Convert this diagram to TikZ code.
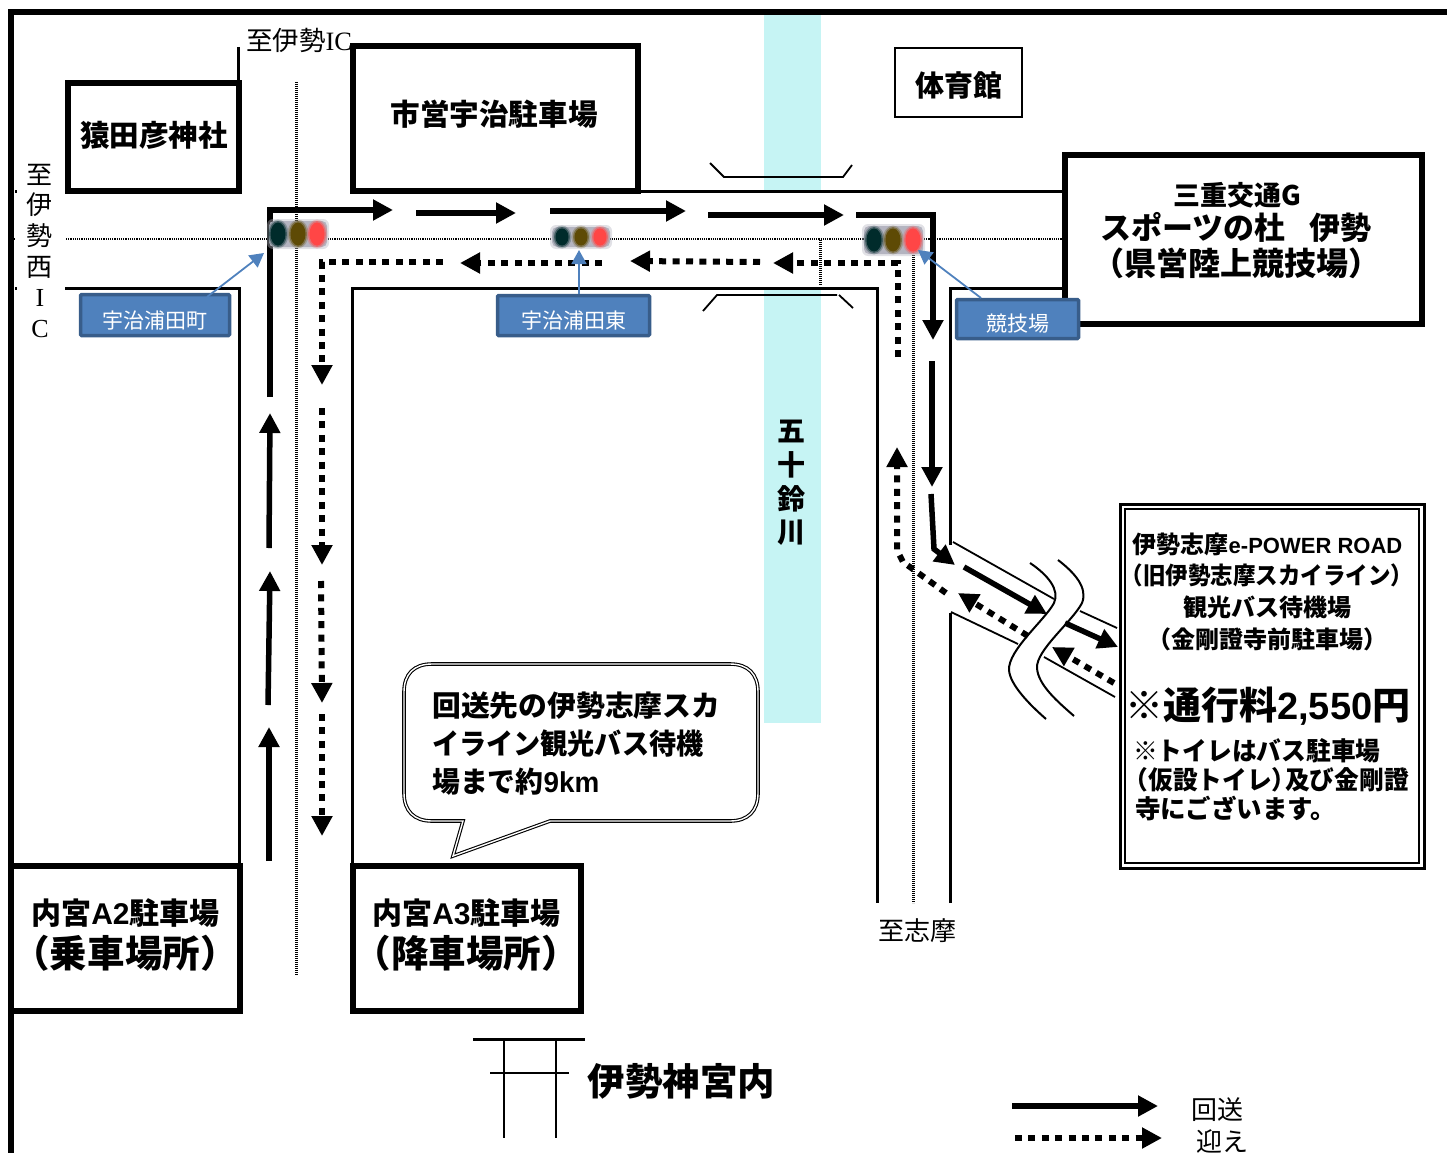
\documentclass[tikz,border=0pt]{standalone}
\usepackage{fontspec}
\usepackage{graphicx}
\usetikzlibrary{arrows.meta}
\setmainfont{Noto Sans CJK JP}
\newfontfamily\latb{Liberation Sans}
\newfontfamily\lats{Liberation Serif}
\newcommand\fs[1]{\fontsize{#1pt}{#1pt}\selectfont}
\newcommand\sx[2]{\scalebox{#1}[1]{#2}}
\definecolor{bluefill}{HTML}{4F81BD}
\definecolor{blueedge}{HTML}{385D8A}
\definecolor{rivercol}{HTML}{C6F4F4}
\definecolor{sigbg}{HTML}{B4B4C0}
\definecolor{lampG}{HTML}{002B2B}
\definecolor{lampY}{HTML}{5E4A05}
\definecolor{lampR}{HTML}{FF4646}
\tikzset{
  boxthick/.style={draw=black,line width=5.5pt,fill=white},
  roadline/.style={draw=black,line width=3pt},
  thinline/.style={draw=black,line width=1.8pt},
  centerline/.style={draw=black,line width=3pt,dash pattern=on 1.1pt off .9pt},
  centerh/.style={draw=black,line width=2.4pt,dash pattern=on 1.2pt off 1pt},
  solidroute/.style={draw=black,line width=5.5pt,-{Triangle[length=20pt,width=20pt]}},
  dotroute/.style={draw=black,line width=6pt,dash pattern=on 7pt off 6.4pt,-{Triangle[length=20pt,width=20pt]}},
  bluelabel/.style={fill=bluefill,draw=blueedge,line width=3.5pt,rounded corners=1pt,text=white,inner sep=0pt,font=\fs{21},text height=26pt,text depth=0pt},
  bluearrow/.style={draw=bluefill,line width=1.8pt,-{Triangle[length=14pt,width=15pt]}},
  txt/.style={inner sep=0pt,font=\bfseries\fs{29}},
  txtl/.style={inner sep=0pt,anchor=west,font=\bfseries\fs{29}},
  plain/.style={inner sep=0pt,font=\fs{26}},
}
\newcommand\siglamp[5]{% x y rx ry colour
  \fill[#5,opacity=.25] (#1,#2) ellipse [x radius=#3+1.5,y radius=#4+1.5];
  \fill[#5,opacity=.5] (#1,#2) ellipse [x radius=#3,y radius=#4];
  \fill[#5] (#1,#2) ellipse [x radius=#3-1.5,y radius=#4-1.5];}
\newcommand\sigbox[4]{% x1 y1 x2 y2
  \fill[sigbg,opacity=.4,rounded corners=6pt] (#1-1,#2-1) rectangle (#3+1,#4+1);
  \fill[sigbg,rounded corners=5pt] (#1+1,#2+1) rectangle (#3-1,#4-1);}
\begin{document}
\begin{tikzpicture}[x=1pt,y=-1pt]
\useasboundingbox (0,0) rectangle (1447,1153);
% river
\fill[rivercol] (764,15) rectangle (821,190);
\fill[rivercol] (764,288) rectangle (821,723);
% frame
\draw[line width=6pt] (1447,12) -- (11,12) -- (11,1153);
% roads
\draw[roadline] (640,191) -- (1064,191);
\draw[roadline] (15,191) -- (17,191);
\draw[roadline] (15,288) -- (17,288);
\draw[roadline] (65,288) -- (239.5,288) -- (239.5,866);
\draw[roadline] (352.5,866) -- (352.5,288) -- (877.5,288) -- (877.5,903);
\draw[roadline] (950,545) -- (950,288) -- (1064,288);
\draw[roadline] (950,903) -- (950,613);
\draw[thinline] (951,612) -- (1018,644);
\draw[roadline,line width=2.6pt] (238.5,47) -- (238.5,83);
\draw[thinline] (953,542) -- (1054,599);
\draw[thinline] (1080,611) -- (1117,628);
\draw[thinline] (1044,657) -- (1115,697);
% bridge
\draw[thinline] (710,163) -- (724,177) -- (843,177) -- (852,165);
\draw[thinline] (703,311) -- (717,295) -- (837,295);
\draw[thinline] (839,295) -- (853,308);
% centre lines
\draw[centerh] (66,239) -- (1062,239);
\draw[centerh] (14,239) -- (16,239);
\draw[centerline] (296,82) -- (296,975);
\draw[centerline] (913,255) -- (913,903);
\draw[centerline] (820,240) -- (820,285);
% buildings
\draw[boxthick] (68,83) rectangle (239,191);
\draw[boxthick] (353,46) rectangle (638,191);
\draw[draw=black,line width=2.4pt] (895,48) rectangle (1022,117);
\draw[boxthick] (1065,155) rectangle (1422,324);
\draw[boxthick] (11,866) rectangle (240,1011);
\draw[boxthick] (353,866) rectangle (581,1011);
% solid route
\draw[solidroute] (270,397) -- (270,210) -- (393,210);
\draw[solidroute] (416,213) -- (516,213);
\draw[solidroute] (550,211) -- (686,211);
\draw[solidroute] (708,215) -- (844,215);
\draw[solidroute] (856,215) -- (933,215) -- (933,340);
\draw[solidroute] (932,361) -- (932,487);
\draw[solidroute] (931,494) -- (934,549) -- (955,565);
\draw[solidroute] (964,567) -- (1047,614);
\draw[solidroute] (1065,623) -- (1118,647);
\draw[solidroute] (269,548) -- (270,413);
\draw[solidroute] (268,705) -- (270,571);
\draw[solidroute] (269,861) -- (269,727);
% dotted route
\draw[dotroute] (443,262) -- (322,262) -- (322,385);
\draw[dotroute] (322,408) -- (322,565);
\draw[dotroute] (321,581) -- (322,703);
\draw[dotroute] (322,714) -- (322,836);
\draw[dotroute] (602,263) -- (460,263);
\draw[dotroute] (760,262) -- (630,261);
\draw[dotroute] (898,357) -- (898,263) -- (773,263);
\draw[dotroute] (946,593) -- (903,562) -- (897,550) -- (897,447);
\draw[dotroute] (1028,636) -- (958,593);
\draw[dotroute] (1114,683) -- (1052,647);
% signals
\sigbox{268}{220}{328}{248}
\siglamp{278}{234}{9}{13}{lampG}
\siglamp{298}{234}{9}{13}{lampY}
\siglamp{317}{234}{9}{13}{lampR}
\sigbox{551}{226}{611}{248}
\siglamp{562}{237}{8}{10}{lampG}
\siglamp{581}{237}{8}{10}{lampY}
\siglamp{600}{237}{8}{10}{lampR}
\sigbox{863}{225}{924}{255}
\siglamp{874}{240}{9}{13}{lampG}
\siglamp{893}{240}{9}{13}{lampY}
\siglamp{913}{240}{9}{13}{lampR}
\coordinate (sigA) at (264,253);
\coordinate (sigB) at (579,250);
\coordinate (sigC) at (918,250);
% wavy break
\draw[line width=2pt] (1030,563) .. controls (1048,575) and (1060,590) .. (1054,603) .. controls (1045,620) and (1008,650) .. (1009,670) .. controls (1010,685) and (1030,705) .. (1046,719);
\draw[line width=2pt] (1058,560) .. controls (1075,573) and (1088,588) .. (1082,603) .. controls (1072,622) and (1036,650) .. (1037,668) .. controls (1038,685) and (1058,702) .. (1074,716);
% callout
\draw[draw=black,line width=1.1pt,double=white,double distance=1.4pt,fill=white,line join=miter]
 (432,664) -- (730,664) .. controls (748,664) and (758,674) .. (758,692) -- (758,793) .. controls (758,811) and (748,821) .. (730,821) -- (550,821) -- (453,856) -- (463,821) -- (432,821) .. controls (414,821) and (404,811) .. (404,793) -- (404,692) .. controls (404,674) and (414,664) .. (432,664) -- cycle;
% info box
\draw[line width=3pt,fill=white] (1120,504) rectangle (1424,868);
\draw[line width=2pt] (1125,509) rectangle (1419,863);
% blue labels
\node[bluelabel,minimum width=149pt,minimum height=41pt] (lblA) at (155,315) {宇治浦田町};
\node[bluelabel,minimum width=152pt,minimum height=40pt] (lblB) at (573.5,315.5) {宇治浦田東};
\node[bluelabel,minimum width=122pt,minimum height=39pt,text height=24pt] (lblC) at (1017.5,319) {競技場};
\coordinate (lblAtip) at (207,297);
\coordinate (lblBtip) at (579,294);
\coordinate (lblCtip) at (981,298);
\draw[bluearrow] (lblAtip) -- (sigA);
\draw[bluearrow] (lblBtip) -- (sigB);
\draw[bluearrow] (lblCtip) -- (sigC);
% torii
\draw[line width=3pt] (473,1039) -- (585,1039);
\draw[line width=2.6pt] (490,1073) -- (569,1073);
\draw[line width=2.6pt] (504,1039) -- (504,1138);
\draw[line width=2.6pt] (556,1039) -- (556,1138);
% legend
\draw[solidroute] (1012,1106) -- (1158,1106);
\draw[dotroute] (1015,1138) -- (1162,1138);
% texts
\node[txt,font=\bfseries\fs{29.5}] (saruta) at (154,135.5) {猿田彦神社};
\node[txt,font=\bfseries\fs{29.6}] (shiei) at (494,114) {市営宇治駐車場};
\node[txt] (taiiku) at (959,85) {体育館};
\node[txt,font=\bfseries\fs{27}] (mie1) at (1237,195) {三重交通G};
\node[txt,font=\bfseries\fs{31}] (mie2) at (1236,228) {スポーツの杜\hspace{24pt}伊勢};
\node[txt,font=\bfseries\fs{32}] (mie3) at (1236.5,263) {（県営陸上競技場）};
\node[txt,font=\bfseries\fs{30}] (a2a) at (125.5,913) {内宮{\latb A2}駐車場};
\node[txt,font=\bfseries\fs{37.5}] (a2b) at (125,953) {（乗車場所）};
\node[txt,font=\bfseries\fs{30}] (a3a) at (466.5,913) {内宮{\latb A3}駐車場};
\node[txt,font=\bfseries\fs{37.5}] (a3b) at (466,953) {（降車場所）};
\node[txt,font=\bfseries\fs{37.5}] (jingu) at (681.5,1081) {伊勢神宮内};
\node[txtl,font=\bfseries\fs{28.8}] (call1) at (432,705.5) {回送先の伊勢志摩スカ};
\node[txtl,font=\bfseries\fs{28.7}] (call2) at (432,743.5) {\sx{.945}{イライン観光バス待機}};
\node[txtl,font=\bfseries\fs{28.7}] (call3) at (432,782) {\sx{.97}{場まで約{\latb 9km}}};
\node[txt,font=\bfseries\fs{28}] (riv1) at (791,431) {五};
\node[txt,font=\bfseries\fs{28}] (riv2) at (791,465) {十};
\node[txt,font=\bfseries\fs{28}] (riv3) at (791,499) {鈴};
\node[txt,font=\bfseries\fs{28}] (riv4) at (791,533) {川};
\node[txt,font=\bfseries\fs{24}] (inf1) at (1267.5,544) {伊勢志摩{\latb\fs{22}e-POWER ROAD}};
\node[txt,font=\bfseries\fs{24}] (inf2) at (1267,575) {\sx{.937}{（旧伊勢志摩スカイライン）}};
\node[txt,font=\bfseries\fs{24}] (inf3) at (1267,607) {観光バス待機場};
\node[txt,font=\bfseries\fs{24}] (inf4) at (1267,639) {（金剛證寺前駐車場）};
\node[txtl,font=\bfseries\fs{38}] (inf5) at (1125,706) {※通行料{\latb 2,550}円};
\node[txtl,font=\bfseries\fs{25.5}] (inf6) at (1133,751) {\sx{.97}{※トイレはバス駐車場}};
\node[txtl,font=\bfseries\fs{25.5}] (inf7) at (1135,780) {\sx{.97}{\hspace*{-12pt}（仮設トイレ）\hspace*{-12pt}及び金剛證}};
\node[txtl,font=\bfseries\fs{25.5}] (inf8) at (1135,809) {寺にございます。};
\node[plain,font=\fs{26.5}] (toIse) at (299,40) {至伊勢{\lats IC}};
\node[plain] (v1) at (40,175) {至};
\node[plain] (v2) at (40,205) {伊};
\node[plain] (v3) at (40,236) {勢};
\node[plain] (v4) at (40,267) {西};
\node[plain] (v5) at (40,298) {\lats I};
\node[plain] (v6) at (40,329) {\lats C};
\node[plain] (toShima) at (917,930.5) {至志摩};
\node[plain] (legA) at (1217,1110) {回送};
\node[plain] (legB) at (1222,1141) {迎え};
\end{tikzpicture}
\end{document}
